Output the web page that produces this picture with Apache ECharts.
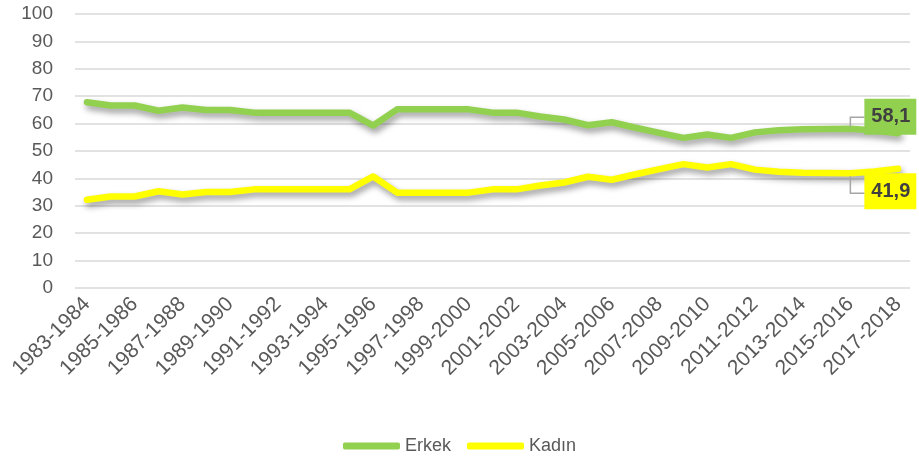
<!DOCTYPE html>
<html>
<head>
<meta charset="utf-8">
<title>Erkek / Kadın</title>
<script src="https://cdn.jsdelivr.net/npm/echarts@6/dist/echarts.min.js"></script>
<style>
  html, body { margin: 0; padding: 0; background: #fff; }
  #chart { width: 919px; height: 462px; }
</style>
</head>
<body>
<div id="chart"></div>
<script>
const years = [
  '1983-1984', '1984-1985', '1985-1986', '1986-1987', '1987-1988', '1988-1989', '1989-1990',
  '1990-1991', '1991-1992', '1992-1993', '1993-1994', '1994-1995', '1995-1996', '1996-1997',
  '1997-1998', '1998-1999', '1999-2000', '2000-2001', '2001-2002', '2002-2003', '2003-2004',
  '2004-2005', '2005-2006', '2006-2007', '2007-2008', '2008-2009', '2009-2010', '2010-2011',
  '2011-2012', '2012-2013', '2013-2014', '2014-2015', '2015-2016', '2016-2017', '2017-2018'
]
const erkekData = [
  67.8, 66.6, 66.6, 64.7, 65.9, 65.0, 65.0,
  64.0, 64.0, 64.0, 64.0, 64.0, 59.3, 65.2,
  65.2, 65.2, 65.2, 64.0, 64.0, 62.6, 61.5,
  59.4, 60.5, 58.5, 56.6, 54.8, 56.0, 54.8,
  56.8, 57.6, 57.9, 58.0, 58.1, 57.5, 56.5
]
const kadinData = [
  32.2, 33.4, 33.4, 35.3, 34.1, 35.0, 35.0,
  36.0, 36.0, 36.0, 36.0, 36.0, 40.7, 34.8,
  34.8, 34.8, 34.8, 36.0, 36.0, 37.4, 38.5,
  40.6, 39.5, 41.5, 43.4, 45.2, 44.0, 45.2,
  43.2, 42.4, 42.1, 42.0, 41.9, 42.5, 43.5
]
// index of the point that carries the boxed value label
const labelIndex = 32

const textColor = '#595959'
const fontFamily = '"Liberation Sans", "DejaVu Sans", sans-serif'

function withLabel(data, color, dy) {
  return data.map(function(v, i) {
    if (i !== labelIndex) return v
    return {
      value: v,
      label: {
        show: true,
        position: 'right',
        offset: [9, dy],
        formatter: function(p) { return String(p.value).replace('.', ',') },
        backgroundColor: color,
        color: '#404040',
        fontWeight: 'bold',
        fontSize: 20,
        fontFamily: fontFamily,
        padding: [8, 6, 8, 7]
      }
    }
  })
}

function lineSeries(name, color, data, dy) {
  return {
    name: name,
    type: 'line',
    symbol: 'circle',
    symbolSize: 0.01,
    showSymbol: true,
    itemStyle: { color: color },
    lineStyle: {
      width: 6.5,
      color: color,
      cap: 'round',
      join: 'round',
      shadowColor: 'rgba(0, 0, 0, 0.4)',
      shadowBlur: 6,
      shadowOffsetX: 2,
      shadowOffsetY: 4
    },
    data: withLabel(data, color, dy)
  }
}

const chart = echarts.init(document.getElementById('chart'))
const option = {
  backgroundColor: '#fff',
  animation: false,
  grid: {
    left: 75,
    right: 9,
    top: 14,
    bottom: 174
  },
  legend: {
    top: 432,
    left: 'center',
    icon: 'roundRect',
    itemWidth: 57,
    itemHeight: 7,
    itemGap: 16,
    textStyle: {
      color: textColor,
      fontSize: 18,
      fontFamily: fontFamily
    },
    data: ['Erkek', 'Kadın']
  },
  xAxis: {
    type: 'category',
    boundaryGap: true,
    data: years,
    axisLine: { show: false },
    axisTick: { show: false },
    axisLabel: {
      interval: 1,
      rotate: 45,
      margin: 13,
      color: textColor,
      fontSize: 21,
      fontFamily: fontFamily
    }
  },
  yAxis: {
    type: 'value',
    min: 0,
    max: 100,
    interval: 10,
    axisLine: { show: false },
    axisTick: { show: false },
    axisLabel: {
      margin: 22,
      color: textColor,
      fontSize: 19,
      fontFamily: fontFamily
    },
    splitLine: {
      lineStyle: {
        color: '#d9d9d9',
        width: 1.5
      }
    }
  },
  series: [
    lineSeries('Erkek', '#92D050', erkekData, -12),
    lineSeries('Kadın', '#FFFF00', kadinData, 18)
  ]
}
chart.setOption(option)

// elbow leader lines from the labelled points to their boxes
function leader(seriesIndex, value, start, bend) {
  const p = chart.convertToPixel({ seriesIndex: seriesIndex }, [labelIndex, value])
  return {
    type: 'polyline',
    silent: true,
    z: 10,
    shape: {
      points: [[p[0], p[1] + start], [p[0], p[1] + bend], [p[0] + 14, p[1] + bend]]
    },
    style: { stroke: '#a6a6a6', lineWidth: 1.5, fill: null }
  }
}
chart.setOption({
  graphic: [
    leader(0, erkekData[labelIndex], -2, -11.5),
    leader(1, kadinData[labelIndex], 3, 20)
  ]
})

window.onresize = function() {
  chart.resize()
}
</script>
</body>
</html>
